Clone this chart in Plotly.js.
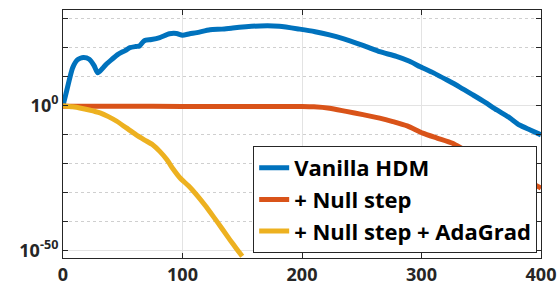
<!DOCTYPE html>
<html>
<head>
<meta charset="utf-8">
<script src="https://cdn.plot.ly/plotly-3.0.1.min.js"></script>
<style>html,body{margin:0;padding:0;background:#fff;}#chart{width:559px;height:285px;}</style>
</head>
<body>
<div id="chart"></div>
<script>
// Data (y given as log10 of the value)
const seriesNames = ["Vanilla HDM", "+ Null step", "+ Null step + AdaGrad"];

const vanillaX = [0, 3, 8, 12, 17, 22, 26, 29, 33, 36, 41, 46, 52, 56, 61, 64, 68, 74, 81, 89, 95, 100, 106, 112, 123, 133, 142, 153, 165, 181, 198, 211, 223, 235, 246, 256, 265, 279, 290, 299, 310, 321, 332, 343, 353, 363, 373, 382, 391, 400];
const vanillaLog = [0, 5, 13, 15.8, 16.6, 16, 13.8, 11.3, 12.8, 14.2, 16, 17.7, 19, 20, 20.4, 20.6, 22.4, 22.8, 23.5, 24.8, 24.9, 24.3, 24.8, 25.2, 26.2, 26.4, 26.8, 27.2, 27.5, 27.4, 26.4, 25.5, 24.4, 23, 21.5, 20, 18.6, 17, 15.3, 13.4, 11.3, 8.9, 6.4, 3.7, 1.2, -1.5, -4, -6.7, -8.4, -10.1];

const nullX = [0, 50, 100, 150, 200, 210, 223, 237, 251, 265, 276, 288, 301, 313, 326, 336, 350, 365, 380, 400];
const nullLog = [-0.2, -0.2, -0.3, -0.3, -0.3, -0.4, -0.9, -2, -3.1, -4.3, -5.5, -7, -9.5, -11.2, -13, -15.3, -18, -21, -24, -28.5];

const adaX = [0, 8, 14, 22, 31, 38, 45, 53, 61, 68, 75, 81, 87, 92, 98, 105, 112, 119, 126, 133, 140, 145, 150];
const adaLog = [0, -0.4, -0.8, -1.5, -2.5, -3.8, -5.4, -7.7, -10, -11.8, -13.5, -15.8, -18.7, -21.8, -25, -27.7, -30.9, -34.5, -38.4, -42.4, -46.5, -49.3, -52];

const colors = ["#0072BD", "#D95319", "#EDB120"];

const yTickVals = [1, 1e-50];
const yTickText = ["10<sup>0</sup>", "10<sup>-50</sup>"];
const yMinorVals = [1e30, 1e20, 1e10, 1e-10, 1e-20, 1e-30, 1e-40];
const xTickVals = [0, 100, 200, 300, 400];

const toVal = arr => arr.map(e => Math.pow(10, e));

const xs = [vanillaX, nullX, adaX];
const ys = [vanillaLog, nullLog, adaLog];

const traces = xs.map((x, i) => ({
  x: x,
  y: toVal(ys[i]),
  type: "scatter",
  mode: "lines",
  name: seriesNames[i],
  line: {color: colors[i], width: 5, shape: "spline", smoothing: 0.6}
}));

const fam = "'Open Sans', Lato, sans-serif";
const tickFont = {family: fam, weight: "bold", size: 18, color: "#262626"};

const layout = {
  width: 559, height: 285,
  margin: {l: 63, r: 18, t: 10, b: 27},
  paper_bgcolor: "#fff", plot_bgcolor: "#fff",
  showlegend: true,
  font: {family: fam, weight: "bold", color: "#262626"},
  xaxis: {
    range: [0, 400],
    tickvals: xTickVals,
    ticks: "inside", ticklen: 5, tickcolor: "#262626",
    showline: true, linecolor: "#262626", linewidth: 1, mirror: "ticks",
    showgrid: true, gridcolor: "#e3e3e3", gridwidth: 1,
    zeroline: false,
    tickfont: tickFont
  },
  yaxis: {
    type: "log",
    range: [-52.6, 33],
    tickmode: "array", tickvals: yTickVals, ticktext: yTickText,
    ticks: "inside", ticklen: 5, tickcolor: "#262626",
    showline: true, linecolor: "#262626", linewidth: 1, mirror: "ticks",
    showgrid: true, gridcolor: "#e3e3e3", gridwidth: 1,
    zeroline: false,
    tickfont: tickFont,
    minor: {
      tickmode: "array", tickvals: yMinorVals,
      ticks: "inside", ticklen: 5, tickcolor: "#262626",
      showgrid: true, gridcolor: "#cfcfcf", griddash: "dot", gridwidth: 1
    }
  },
  legend: {
    x: 0.992, xanchor: "right", y: 0.02, yanchor: "bottom",
    bgcolor: "#fff", bordercolor: "#262626", borderwidth: 1,
    font: {family: fam, weight: "bold", size: 22, color: "#000"},
    tracegroupgap: 0
  }
};

Plotly.newPlot("chart", traces, layout, {staticPlot: true, displayModeBar: false});
</script>
</body>
</html>
